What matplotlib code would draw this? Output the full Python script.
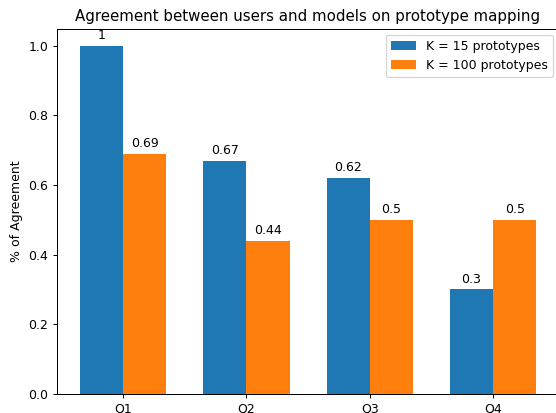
import numpy as np
import matplotlib
matplotlib.use('Agg')
import matplotlib.pyplot as plt

# data
questions = ['Q1', 'Q2', 'Q3', 'Q4']
k15_values = [1, 0.67, 0.62, 0.3]
k100_values = [0.69, 0.44, 0.5, 0.5]

x = np.arange(len(questions))
width = 0.35

# reference looks like a slightly downscaled render, so use dpi 90
fig = plt.figure(figsize=(556 / 90, 413 / 90), dpi=90)
# axes runs a little past the right/bottom edges, as in the cropped reference
ax = fig.add_axes([0.1025, 0.0472, 0.903, 0.8835])

rects1 = ax.bar(x - width / 2, k15_values, width, label='K = 15 prototypes')
rects2 = ax.bar(x + width / 2, k100_values, width, label='K = 100 prototypes')

ax.set_ylabel('% of Agreement')
ax.set_title('Agreement between users and models on prototype mapping')
ax.set_xticks(x)
ax.set_xticklabels(questions)
ax.legend(loc='upper right')

ax.bar_label(rects1, padding=3)
ax.bar_label(rects2, padding=3)

fig.savefig('out.png', dpi=90)
